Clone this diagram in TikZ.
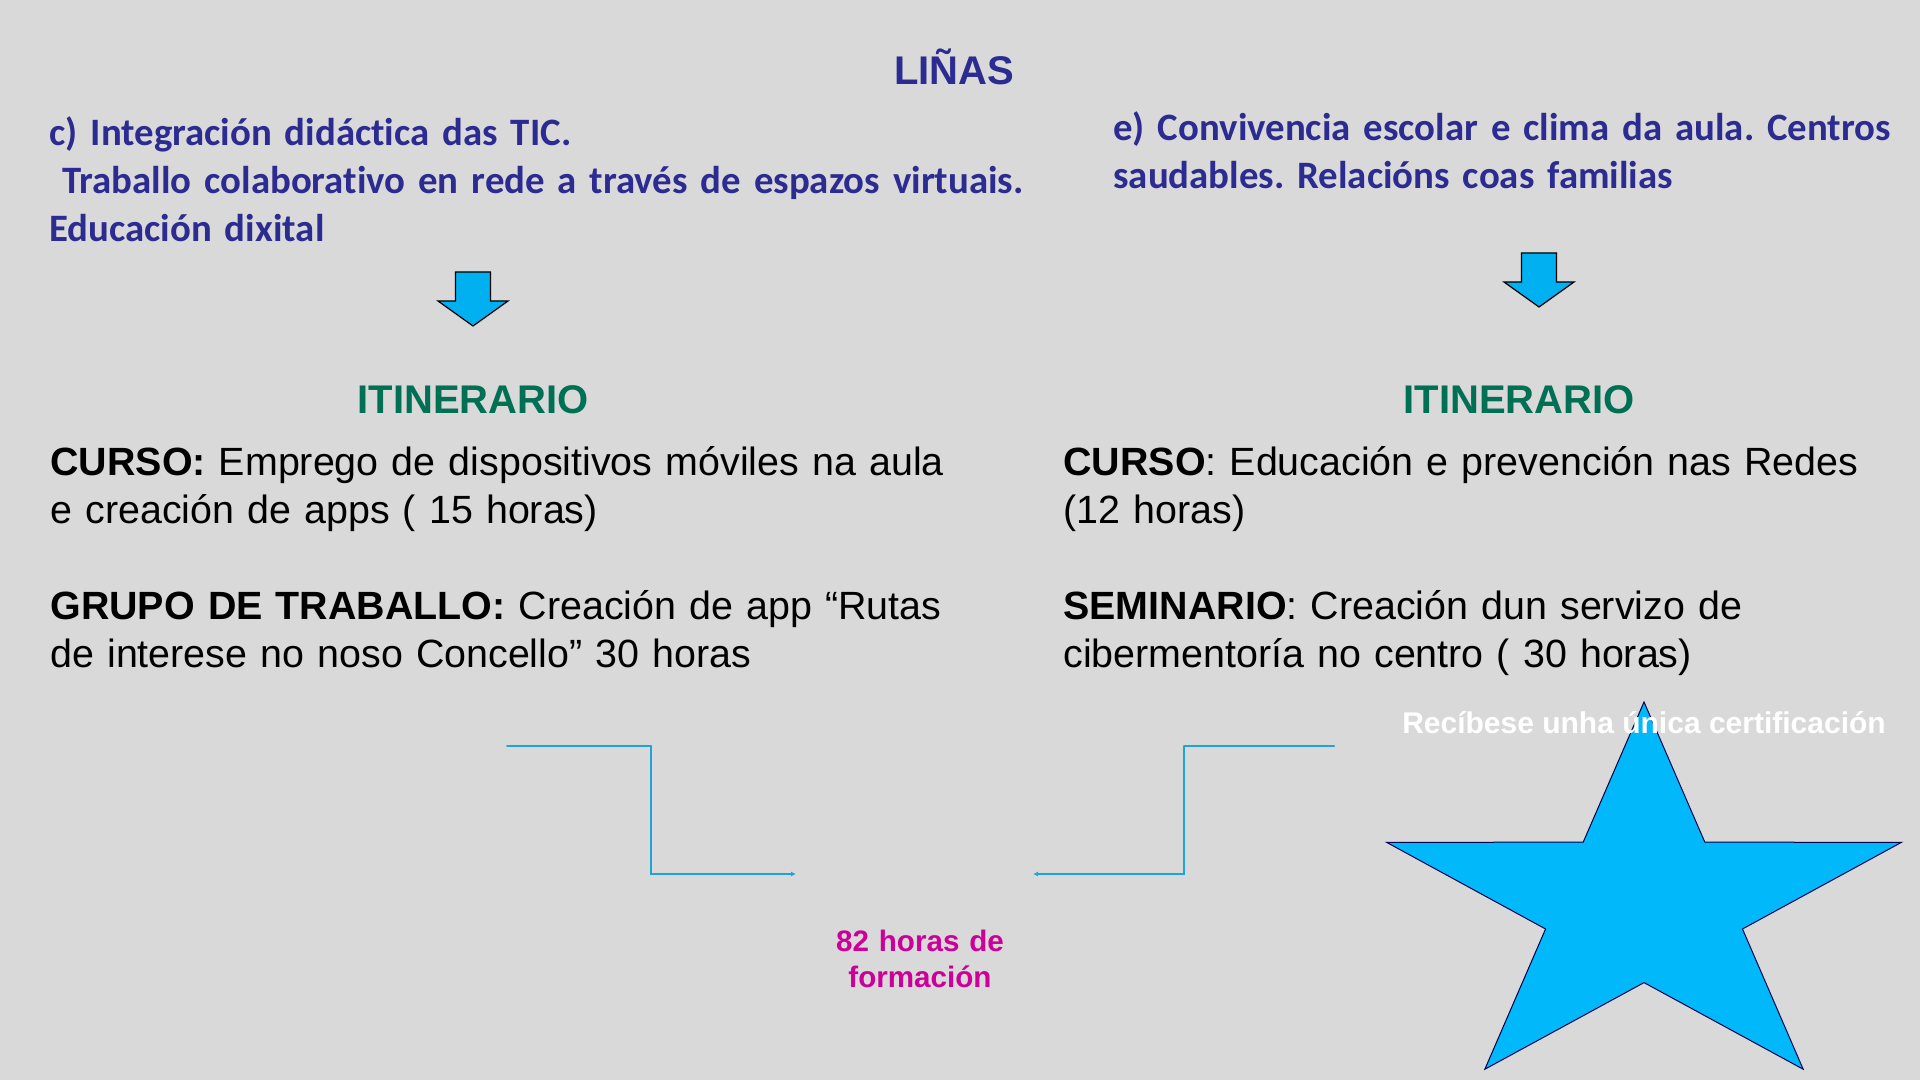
\documentclass[tikz,border=0pt]{standalone}
\usepackage{fontspec}
\setmainfont{Liberation Sans}
\newfontfamily\calibrifont[Ligatures=NoCommon]{Carlito}
\usetikzlibrary{arrows.meta}
\definecolor{slidegrey}{RGB}{217,217,217}
\definecolor{linablue}{RGB}{43,43,145}
\definecolor{itingreen}{RGB}{0,112,84}
\definecolor{arrowblue}{RGB}{0,176,240}
\definecolor{starblue}{RGB}{0,184,250}
\definecolor{linkblue}{RGB}{28,164,220}
\definecolor{totalpink}{RGB}{204,0,153}
\frenchspacing

\begin{document}
\begin{tikzpicture}[x=0.5pt, y=-0.5pt, >=Latex, line cap=round, line join=round,
	every node/.style={inner sep=0pt},
	linatext/.style={text=linablue, font=\fontsize{19.4pt}{24pt}\selectfont\calibrifont\bfseries,
		align=left, anchor=base west},
	itintext/.style={text=itingreen, font=\fontsize{20pt}{24pt}\selectfont\bfseries, anchor=base},
	bodytext/.style={text=black, font=\fontsize{19.7pt}{24pt}\selectfont,
		text width=#1, align=left, anchor=base west},
	blockarrow/.style={fill=arrowblue, draw=black, line width=0.6pt, line join=miter},
	linkbar/.style={draw=linkblue, line width=1pt},
	linkelbow/.style={draw=linkblue, line width=0.65pt, line join=miter,
		-{Latex[length=2.5pt,width=2.5pt]}},
	starshape/.style={fill=starblue, draw=black!70!blue, line width=0.5pt, line join=miter}]
	
	\useasboundingbox (0,0) rectangle (1920,1080);
	\fill[slidegrey] (0,0) rectangle (1920,1080);
	
	%========================
	% Top: the two lines
	%========================
	\node[itintext, text=linablue] (linas) at (954,85) {LIÑAS};
	\node[linatext, text width=520pt] (linaC) at (49,146)
	{c) Integración didáctica das TIC.\\~Traballo colaborativo en rede a través de espazos virtuais.\\Educación dixital};
	\node[linatext, text width=420pt] (linaE) at (1113,141)
	{e) Convivencia escolar e clima da aula. Centros\\saudables. Relacións coas familias};
	
	% block arrows down to each itinerary
	\foreach \ax/\ay in {473/272, 1539/253}
	\draw[blockarrow] ({\ax-17.5},\ay) -- ({\ax+17.5},\ay) -- ({\ax+17.5},{\ay+29})
	-- ({\ax+35},{\ay+29}) -- (\ax,{\ay+54}) -- ({\ax-35},{\ay+29})
	-- ({\ax-17.5},{\ay+29}) -- cycle;
	
	%========================
	% Middle: itineraries
	%========================
	\node[itintext] (itinL) at (473,413) {ITINERARIO};
	\node[itintext] (itinR) at (1519,413) {ITINERARIO};
	
	\node[bodytext=460pt] (cursoL) at (50,475)
	{\textbf{CURSO:} Emprego de dispositivos móviles na aula\\e creación de apps ( 15 horas)};
	\node[bodytext=460pt] (grupoL) at (50,619)
	{\textbf{GRUPO DE TRABALLO:} Creación de app “Rutas\\de interese no noso Concello” 30 horas};
	\node[bodytext=420pt] (cursoR) at (1063,475)
	{\textbf{CURSO}: Educación e prevención nas Redes\\(12 horas)};
	\node[bodytext=420pt] (seminR) at (1063,619)
	{\textbf{SEMINARIO}: Creación dun servizo de\\cibermentoría no centro ( 30 horas)};
	
	%========================
	% Bottom: total and certificate
	%========================
	\coordinate (inL) at (507,746);
	\coordinate (bendL) at (651,746);
	\coordinate (outL) at (796,874);
	\coordinate (inR) at (1334,746);
	\coordinate (bendR) at (1184,746);
	\coordinate (outR) at (1033,874);
	\draw[linkbar] (inL) -- (bendL);
	\draw[linkelbow] (bendL) |- (outL);
	\draw[linkbar] (inR) -- (bendR);
	\draw[linkelbow] (bendR) |- (outR);
	
	\node[text=totalpink, font=\fontsize{14.8pt}{18pt}\selectfont\bfseries,
	text width=200pt, align=center, anchor=base] (total) at (920,951)
	{82 horas de\\formación};
	
	% star (stretched like on the slide)
	\begin{scope}[shift={(1644,905)}, x=0.667pt, y=0.5pt]
		\draw[starshape] (90:203)
		\foreach \k in {1,...,9} { -- ({90+36*\k}:{ifthenelse(mod(\k,2)==0,203,77.6)}) } -- cycle;
	\end{scope}
	\node[text=white, font=\fontsize{15pt}{18pt}\selectfont\bfseries, anchor=base] (cert)
	at (1644,733) {Recíbese unha única certificación};
	
\end{tikzpicture}
\end{document}
